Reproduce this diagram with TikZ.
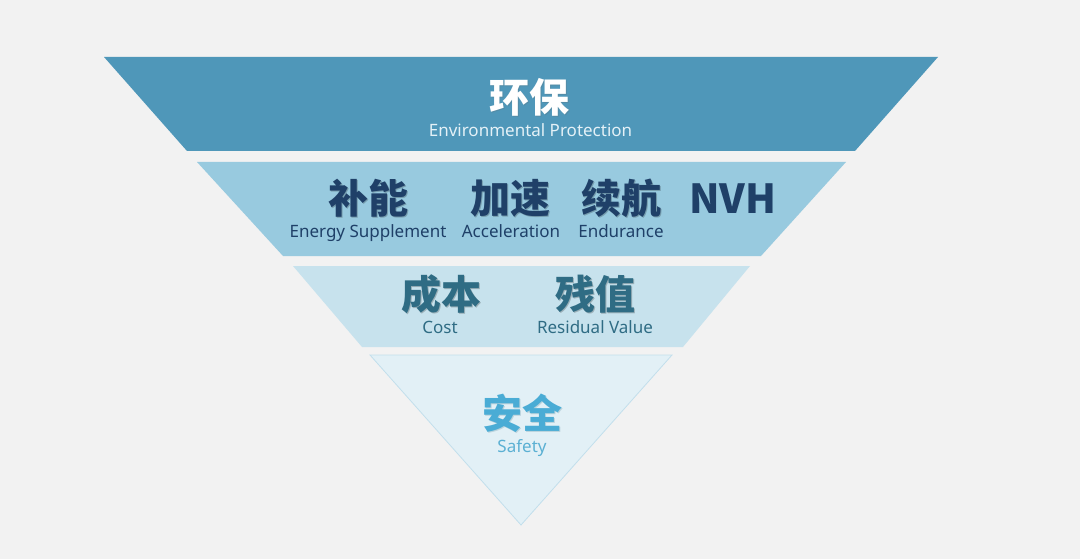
\documentclass[tikz,border=0pt]{standalone}
\usepackage{fontspec}
\setmainfont{Noto Sans}
\newfontfamily\cjk{Noto Sans CJK SC}
\definecolor{bg}{HTML}{F2F2F2}
\definecolor{lone}{HTML}{4F97B9}
\definecolor{ltwo}{HTML}{98CADF}
\definecolor{lthree}{HTML}{C7E2ED}
\definecolor{lfour}{HTML}{E2F0F6}
\definecolor{lfourline}{HTML}{C2DFEC}
\definecolor{tone}{HTML}{FFFFFF}
\definecolor{tonesub}{HTML}{E4F1F7}
\definecolor{ttwo}{HTML}{1F4068}
\definecolor{tthree}{HTML}{2F6C84}
\definecolor{tfour}{HTML}{4AACD5}
\definecolor{tfoursub}{HTML}{5BB0D3}
\begin{document}
\begin{tikzpicture}[x=1pt,y=-1pt,
  cn/.style={anchor=base,inner sep=0pt,font=\cjk\bfseries\fontsize{40}{40}\selectfont},
  en/.style={anchor=base,inner sep=0pt,font=\fontsize{17}{17}\selectfont},
  shadowtext/.style={anchor=base,inner sep=0pt,font=\cjk\bfseries\fontsize{40}{40}\selectfont,text opacity=0.22}]
\fill[bg] (0,0) rectangle (1080,559);
\useasboundingbox (0,0) rectangle (1080,559);
% layers
\fill[lone] (104,57) -- (938,57) -- (855,151) -- (187,151) -- cycle;
\fill[ltwo] (197,162) -- (846,162) -- (761,256) -- (283,256) -- cycle;
\fill[lthree] (293,266) -- (750,266) -- (683,347) -- (362,347) -- cycle;
\filldraw[fill=lfour,draw=lfourline,line width=0.8pt] (370,355) -- (672,355) -- (521,525) -- cycle;
% layer 1
\node[shadowtext,text=black!60] (hbs) at (530.5,113.5) {环保};
\node[cn,text=tone] (hb) at (529.5,112.5) {环保};
\node[en,text=tonesub] (ep) at (530.5,136.5) {Environmental Protection};
% layer 2
\node[shadowtext,text=black] (bns) at (369,214.5) {补能};
\node[cn,text=ttwo] (bn) at (368,213.5) {补能};
\node[shadowtext,text=black] (jss) at (511,214.5) {加速};
\node[cn,text=ttwo] (js) at (510,213.5) {加速};
\node[shadowtext,text=black] (xhs) at (622,214.5) {续航};
\node[cn,text=ttwo] (xh) at (621,213.5) {续航};
\node[anchor=base,inner sep=0pt,font=\cjk\bfseries\fontsize{40}{40}\selectfont,text=ttwo] (nvh) at (733,213.5) {NVH};
\node[en,text=ttwo] (es) at (368,237) {Energy Supplement};
\node[en,text=ttwo] (ac) at (511,237) {Acceleration};
\node[en,text=ttwo] (ed) at (621,237) {Endurance};
% layer 3
\node[shadowtext,text=black] (cbs) at (442,310.5) {成本};
\node[cn,text=tthree] (cb) at (441,309.5) {成本};
\node[shadowtext,text=black] (czs) at (596,310.5) {残值};
\node[cn,text=tthree] (cz) at (595,309.5) {残值};
\node[en,text=tthree] (co) at (440,333) {Cost};
\node[en,text=tthree] (rv) at (595,333) {Residual Value};
% layer 4
\node[shadowtext,text=tthree] (aqs) at (523,429.5) {安全};
\node[cn,text=tfour] (aq) at (522,428.5) {安全};
\node[en,text=tfoursub] (sf) at (522,452) {Safety};
\end{tikzpicture}
\end{document}
